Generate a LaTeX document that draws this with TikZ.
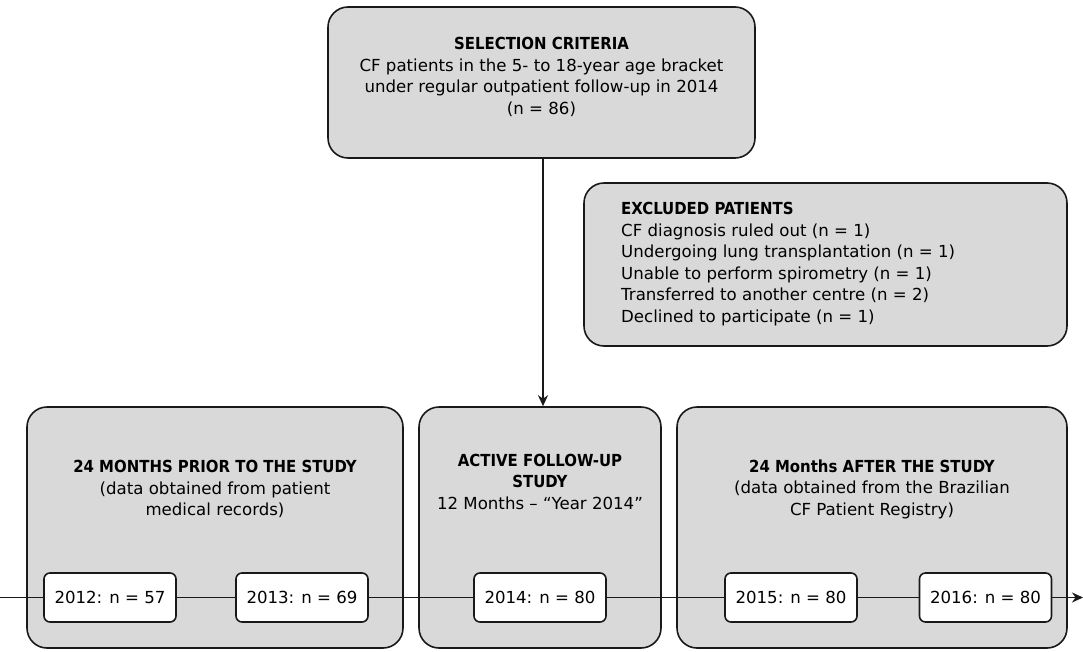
\documentclass[tikz,border=0pt]{standalone}
\usepackage{fontspec}
\setmainfont{DejaVu Sans}[BoldFont={DejaVu Sans Condensed Bold}]
\usetikzlibrary{arrows.meta, positioning}

\begin{document}
\begin{tikzpicture}[
    x=1pt, y=-1pt,
    >={Stealth[length=11pt, width=10pt, inset=3.5pt]},
    panel/.style={draw=black!90, line width=1.6pt, fill=black!15, rounded corners=20pt, inner sep=0pt},
    yearbox/.style={draw=black!90, line width=1.6pt, fill=white, rounded corners=6pt,
        minimum width=132pt, minimum height=49pt, inner sep=0pt, font=\fontsize{16.6}{20}\selectfont},
    heading/.style={align=center, inner sep=0pt, font=\fontsize{16.6}{21.5}\selectfont},
    listing/.style={align=left, inner sep=0pt, font=\fontsize{16.6}{21.5}\selectfont},
    link/.style={draw=black!90, line width=1.6pt}
]

    % === Frame ===
    \useasboundingbox (0,0) rectangle (1083,651);

    % === Top boxes ===
    \node[panel, minimum width=427pt, minimum height=151pt] (select) at (541.5,82.5) {};
    \node[heading] (selecttxt) at (541.5,77)
        {\textbf{SELECTION CRITERIA}\\CF patients in the 5- to 18-year age bracket\\under regular outpatient follow-up in 2014\\(n = 86)};

    \node[panel, minimum width=483pt, minimum height=163pt] (exclude) at (825.5,264.5) {};
    \node[listing, anchor=north west] (excludetxt) at (621,202)
        {\textbf{EXCLUDED PATIENTS}\\CF diagnosis ruled out (n = 1)\\Undergoing lung transplantation (n = 1)\\Unable to perform spirometry (n = 1)\\Transferred to another centre (n = 2)\\Declined to participate (n = 1)};

    % === Period panels ===
    \node[panel, minimum width=376pt, minimum height=241pt] (prior) at (215,527.5) {};
    \node[panel, minimum width=242pt, minimum height=241pt] (active) at (540,527.5) {};
    \node[panel, minimum width=390pt, minimum height=241pt] (after) at (872,527.5) {};

    \node[heading] (priortxt) at (215,489)
        {\textbf{24 MONTHS PRIOR TO THE STUDY}\\(data obtained from patient\\medical records)};
    \node[heading] (activetxt) at (540,481.5)
        {\textbf{ACTIVE FOLLOW-UP}\\\textbf{STUDY}\\12 Months -- “Year 2014”};
    \node[heading] (aftertxt) at (872,489)
        {\textbf{24 Months AFTER THE STUDY}\\(data obtained from the Brazilian\\CF Patient Registry)};

    % === Years ===
    \node[yearbox] (y2012) at (110,597.5) {2012: n = 57};
    \node[yearbox] (y2013) at (302,597.5) {2013: n = 69};
    \node[yearbox] (y2014) at (540,597.5) {2014: n = 80};
    \node[yearbox] (y2015) at (791,597.5) {2015: n = 80};
    \node[yearbox] (y2016) at (985.5,597.5) {2016: n = 80};

    % === Connectors ===
    \coordinate (drop) at (543,158);
    \coordinate (tstart) at (0,597.5);
    \coordinate (tend) at (1083,597.5);
    \draw[link, ->] (drop) -- (drop |- active.north);
    \draw[link] (tstart) -- (y2012);
    \draw[link] (y2012) -- (y2013);
    \draw[link] (y2013) -- (y2014);
    \draw[link] (y2014) -- (y2015);
    \draw[link] (y2015) -- (y2016);
    \draw[link, ->] (y2016) -- (tend);

\end{tikzpicture}
\end{document}
